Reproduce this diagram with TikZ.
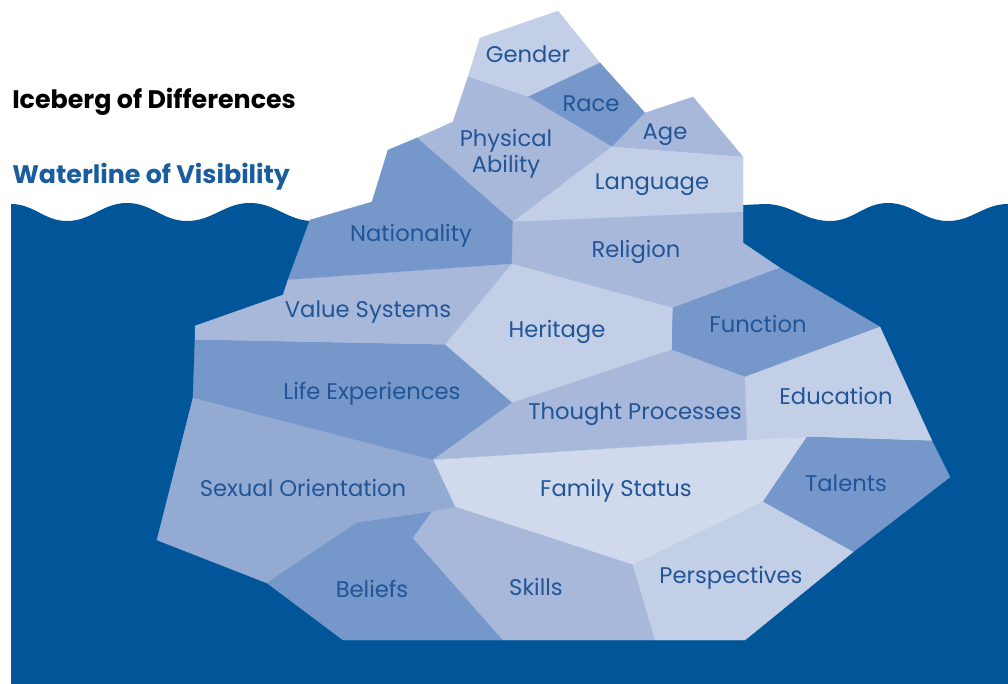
\documentclass[tikz,border=0pt]{standalone}
\usepackage{fontspec}
\setmainfont{Poppins}
\definecolor{water}{HTML}{005699}
\definecolor{lightA}{HTML}{D0DAEC}
\definecolor{lightB}{HTML}{C3CFE7}
\definecolor{midC}{HTML}{A7B8DB}
\definecolor{midD}{HTML}{93ABD3}
\definecolor{darkE}{HTML}{7597C9}
\definecolor{labeltext}{HTML}{215597}
\definecolor{titleblue}{HTML}{1A5D9E}
\tikzset{
  piece/.style={fill=#1, draw=#1, line width=0.3pt, line join=round},
  lbl/.style={anchor=base, inner sep=0pt, text=labeltext, font=\fontsize{17}{19.5}\selectfont, align=center},
  ttl/.style={anchor=base west, inner sep=0pt, font=\bfseries\fontsize{19}{22}\selectfont}
}
\begin{document}
\begin{tikzpicture}[x=0.75pt,y=-0.75pt]
\useasboundingbox (0,0) rectangle (1008,684);
% water
\fill[water] (11,684) -- (11,204)
  to[out=0,in=180] (67,221) to[out=0,in=180] (127,203)
  to[out=0,in=180] (187,221) to[out=0,in=180] (250,203)
  to[out=0,in=180] (313,221) -- (743,226) -- (743,205) -- (765,204)
  to[out=0,in=180] (830,221) to[out=0,in=180] (888,203)
  to[out=0,in=180] (948,221) to[out=0,in=180] (1008,204)
  -- (1008,684) -- cycle;
% iceberg pieces
\path[piece=lightB] (480,38) -- (558,11) -- (600,63) -- (528,97) -- (468,77) -- cycle; % Gender
\path[piece=darkE] (528,97) -- (600,63) -- (645,113) -- (612,147) -- cycle; % Race
\path[piece=midC] (468,77) -- (528,97) -- (612,147) -- (513,222) -- (417,138) -- (453,122) -- cycle; % Physical Ability
\path[piece=midC] (612,147) -- (645,113) -- (693,97) -- (743,157) -- cycle; % Age
\path[piece=lightB] (612,147) -- (743,157) -- (743,212) -- (513,222) -- cycle; % Language
\path[piece=darkE] (417,138) -- (513,222) -- (513,264) -- (288,280) -- (310,220) -- (372,202) -- (388,150) -- cycle; % Nationality
\path[piece=midC] (513,222) -- (743,212) -- (743,243) -- (780,268) -- (673,308) -- (512,264) -- cycle; % Religion
\path[piece=midC] (288,280) -- (512,264) -- (445,345) -- (195,340) -- (195,326) -- (283,295) -- cycle; % Value Systems
\path[piece=lightB] (512,264) -- (673,308) -- (672,350) -- (512,403) -- (445,345) -- cycle; % Heritage
\path[piece=darkE] (673,308) -- (780,268) -- (880,327) -- (745,377) -- (672,350) -- cycle; % Function
\path[piece=darkE] (195,340) -- (445,345) -- (512,403) -- (433,460) -- (193,398) -- cycle; % Life Experiences
\path[piece=midC] (512,403) -- (672,350) -- (745,377) -- (747,440) -- (433,460) -- cycle; % Thought Processes
\path[piece=lightB] (745,377) -- (880,327) -- (932,441) -- (807,437) -- (747,440) -- cycle; % Education
\path[piece=lightA] (433,460) -- (747,440) -- (807,437) -- (763,502) -- (633,565) -- (455,507) -- cycle; % Family Status
\path[piece=darkE] (807,437) -- (932,441) -- (950,477) -- (853,552) -- (763,502) -- cycle; % Talents
\path[piece=midD] (193,398) -- (433,460) -- (455,507) -- (432,512) -- (357,523) -- (267,583) -- (157,540) -- cycle; % Sexual Orientation
\path[piece=darkE] (267,583) -- (357,523) -- (432,512) -- (413,538) -- (503,640) -- (343,640) -- cycle; % Beliefs
\path[piece=midC] (413,538) -- (432,512) -- (455,507) -- (633,565) -- (655,640) -- (503,640) -- cycle; % Skills
\path[piece=lightB] (633,565) -- (763,502) -- (853,552) -- (745,640) -- (655,640) -- cycle; % Perspectives
% titles
\node[ttl, text=black] (title) at (12,109) {Iceberg of Differences};
\node[ttl, text=titleblue] (waterline) at (12,184) {Waterline of Visibility};
% labels
\node[lbl] (gender) at (528,63) {Gender};
\node[lbl] (race) at (591,112) {Race};
\node[lbl] (physical) at (506,173) {Physical\\Ability};
\node[lbl] (age) at (665,140) {Age};
\node[lbl] (language) at (652,190) {Language};
\node[lbl] (nationality) at (411,242) {Nationality};
\node[lbl] (religion) at (636,258) {Religion};
\node[lbl] (values) at (368,318) {Value Systems};
\node[lbl] (heritage) at (557,338) {Heritage};
\node[lbl] (function) at (758,333) {Function};
\node[lbl] (life) at (372,400) {Life Experiences};
\node[lbl] (thought) at (635,420) {Thought Processes};
\node[lbl] (education) at (836,405) {Education};
\node[lbl] (sexual) at (303,497) {Sexual Orientation};
\node[lbl] (family) at (616,497) {Family Status};
\node[lbl] (talents) at (846,492) {Talents};
\node[lbl] (beliefs) at (372,598) {Beliefs};
\node[lbl] (skills) at (536,595) {Skills};
\node[lbl] (perspectives) at (731,583) {Perspectives};
\end{tikzpicture}
\end{document}
